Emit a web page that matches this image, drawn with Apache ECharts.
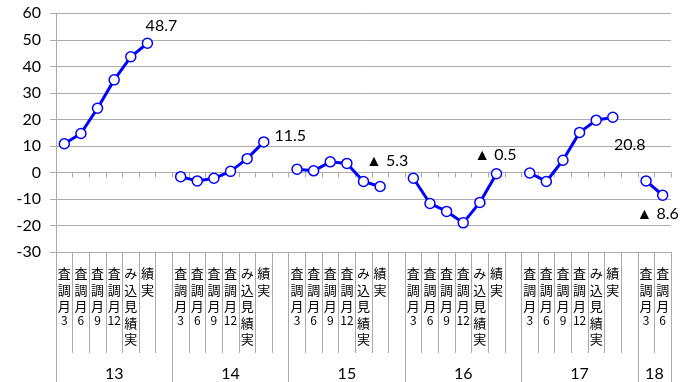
<!DOCTYPE html>
<html>
<head>
<meta charset="utf-8">
<script src="https://cdn.jsdelivr.net/npm/echarts@6/dist/echarts.min.js"></script>
<style>
  html, body { margin: 0; padding: 0; background: #fff; }
  #chart { width: 681px; height: 382px; }
</style>
</head>
<body>
<div id="chart"></div>
<script>
// Fiscal years (group labels) and survey periods within each year
const years = ['13', '14', '15', '16', '17', '18'];
const periods = ['3月調査', '6月調査', '9月調査', '12月調査', '実績見込み', '実績'];

// Values per fiscal year, one per survey period
const fy13 = [10.8, 14.7, 24.2, 34.9, 43.6, 48.7];
const fy14 = [-1.6, -3.2, -2.2, 0.4, 5.2, 11.5];
const fy15 = [1.2, 0.6, 4.0, 3.4, -3.4, -5.3];
const fy16 = [-2.2, -11.7, -14.7, -19.0, -11.3, -0.5];
const fy17 = [-0.2, -3.4, 4.6, 15.1, 19.7, 20.8];
const fy18 = [-3.2, -8.6];

// Value axis range
const yMin = -30, yMax = 60, yStep = 10;

const groups = [fy13, fy14, fy15, fy16, fy17, fy18];

// Where the value label of each year's latest point sits
const endLabelPlacement = [
  { position: 'top', offset: [14, 1] },
  { position: 'right', offset: [0, -6] },
  { position: 'top', offset: [7, -7] },
  { position: 'top', offset: [-1, 0] },
  { position: 'bottom', offset: [17, 9] },
  { position: 'bottom', offset: [-5, 0] }
];

const GRID_COLOR = '#ababab';
const NUM_FONT = 'Lato, "Open Sans", sans-serif';
const JP_FONT = '"Noto Sans CJK JP", sans-serif';

// Build the flat category list: each year's periods, then an empty spacer slot
const categories = [];
const points = [];
const groupStarts = [];
const groupCenters = {};
groups.forEach((vals, g) => {
  const start = categories.length;
  groupStarts.push(start);
  vals.forEach((v, i) => {
    categories.push(periods[i]);
    const item = { value: v };
    if (i === vals.length - 1) {
      item.label = Object.assign({
        show: true,
        color: '#000',
        fontFamily: NUM_FONT,
        fontSize: 16,
        formatter: (p) => p.value < 0 ? '▲ ' + Math.abs(p.value).toFixed(1) : p.value.toFixed(1)
      }, endLabelPlacement[g]);
    }
    points.push(item);
  });
  if (g < groups.length - 1) {
    categories.push('');
    points.push('-');
  }
  groupCenters[(start + categories.length) / 2] = years[g];
});
const slotCount = categories.length;

// Stack a label vertically, read bottom-to-top; digit runs stay together
function stackLabel(text) {
  if (!text) return '';
  const units = text.match(/\d+|./g) || [];
  return units.reverse().map(u => /\d/.test(u) ? '{d|' + u + '}' : '{c|' + u + '}').join('\n');
}

const chart = echarts.init(document.getElementById('chart'), null, { renderer: 'canvas' });

chart.setOption({
  backgroundColor: '#fff',
  animation: false,
  grid: { left: 56, right: 10, top: 13.3, bottom: 127.6, containLabel: false },
  xAxis: [
    {
      // period labels and short separators under the plot
      type: 'category',
      data: categories,
      position: 'bottom',
      boundaryGap: true,
      axisLine: { show: true, onZero: false, lineStyle: { color: GRID_COLOR, width: 1 } },
      axisTick: { show: true, interval: 0, length: 101, lineStyle: { color: GRID_COLOR, width: 1 } },
      axisLabel: {
        show: true,
        interval: 0,
        margin: 13,
        color: '#000',
        formatter: stackLabel,
        rich: {
          c: { fontFamily: JP_FONT, fontSize: 13, lineHeight: 16.5, align: 'center', color: '#000' },
          d: { fontFamily: JP_FONT, fontSize: 12, lineHeight: 12, align: 'center', color: '#000' }
        }
      },
      splitLine: { show: false }
    },
    {
      // full-height separators between fiscal years
      type: 'category',
      data: categories,
      position: 'bottom',
      boundaryGap: true,
      axisLine: { show: false, onZero: false },
      axisTick: {
        show: true,
        interval: (i) => groupStarts.indexOf(i) >= 0,
        length: 130,
        lineStyle: { color: GRID_COLOR, width: 1 }
      },
      axisLabel: { show: false },
      splitLine: { show: false }
    },
    {
      // fiscal year labels centred under each group
      type: 'value',
      min: 0,
      max: slotCount,
      interval: 0.5,
      position: 'bottom',
      axisLine: { show: false, onZero: false },
      axisTick: { show: false },
      splitLine: { show: false },
      axisLabel: {
        show: true,
        margin: 114,
        color: '#000',
        fontFamily: NUM_FONT,
        fontSize: 16,
        formatter: (v) => groupCenters[v] || ''
      }
    },
    {
      // zero line with small slot ticks
      type: 'category',
      data: categories,
      position: 'top',
      boundaryGap: true,
      axisLine: { show: true, onZero: true, lineStyle: { color: GRID_COLOR, width: 1 } },
      axisTick: { show: true, inside: true, interval: 0, length: 5, lineStyle: { color: GRID_COLOR, width: 1 } },
      axisLabel: { show: false },
      splitLine: { show: false }
    }
  ],
  yAxis: {
    type: 'value',
    min: yMin,
    max: yMax,
    interval: yStep,
    axisLine: { show: true, onZero: false, lineStyle: { color: GRID_COLOR, width: 1 } },
    axisTick: { show: true, length: 6, lineStyle: { color: GRID_COLOR, width: 1 } },
    axisLabel: { margin: 15, color: '#000', fontFamily: NUM_FONT, fontSize: 16 },
    splitLine: { show: true, lineStyle: { color: GRID_COLOR, width: 1 } }
  },
  series: [{
    type: 'line',
    xAxisIndex: 0,
    yAxisIndex: 0,
    data: points,
    connectNulls: false,
    symbol: 'circle',
    symbolSize: 10,
    showAllSymbol: true,
    lineStyle: { color: '#0000ff', width: 3 },
    itemStyle: { color: '#ffffff', borderColor: '#0000ff', borderWidth: 1.5 },
    emphasis: { disabled: true },
    z: 5
  }]
});
</script>
</body>
</html>
